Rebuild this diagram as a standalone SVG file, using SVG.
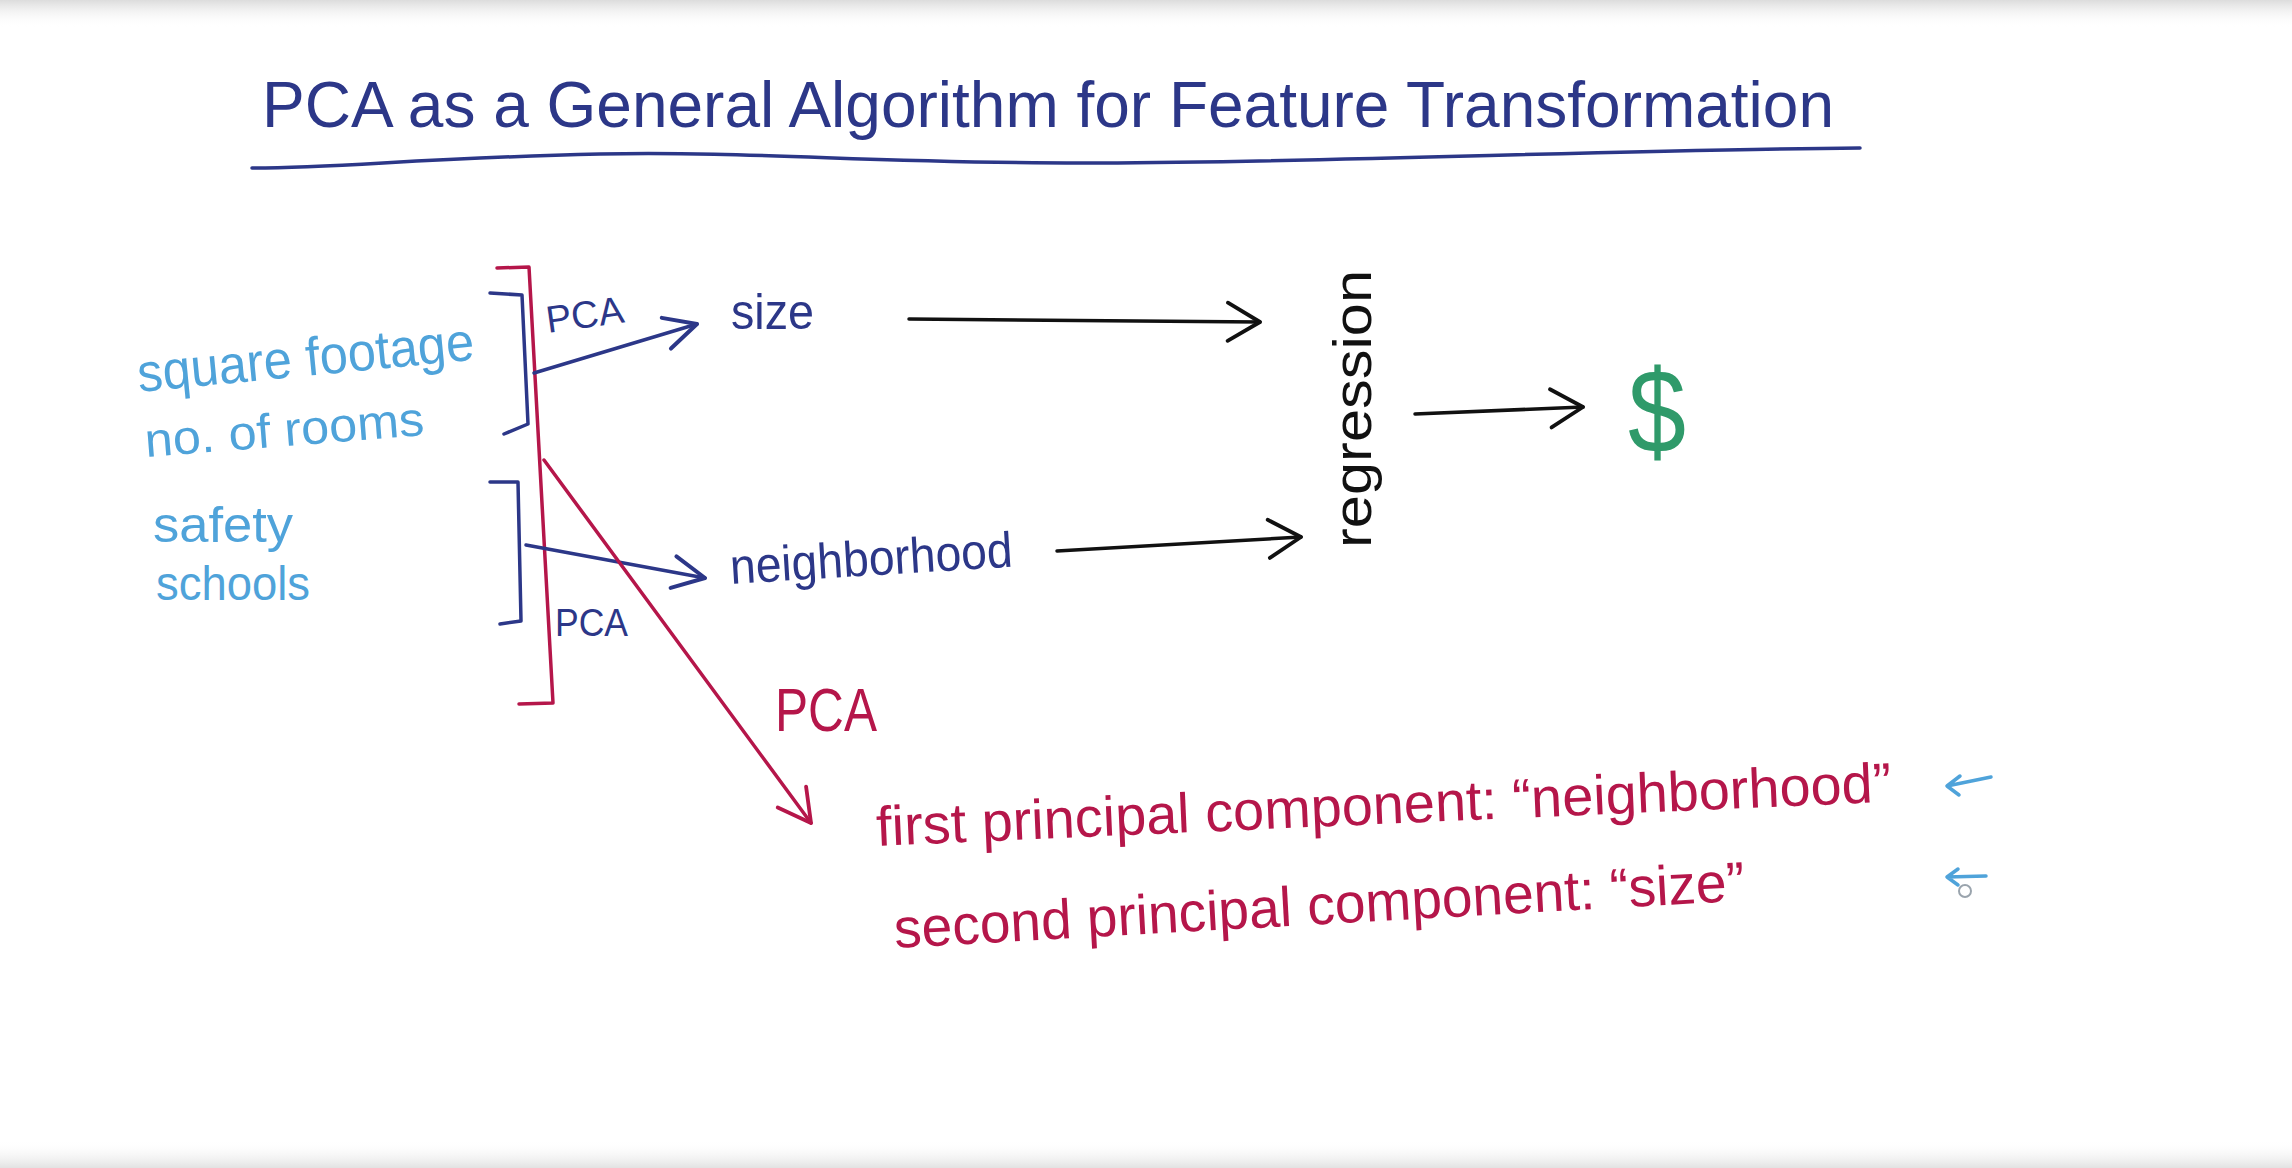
<svg xmlns="http://www.w3.org/2000/svg" width="2292" height="1168" viewBox="0 0 2292 1168">
<defs>
<style>
.t{font-family:"Liberation Sans",Arial,sans-serif;}
.navy{fill:#2c3788;}
.lb{fill:#4fa3da;}
.red{fill:#b5164a;}
.blk{fill:#111;}
.ln{fill:none;stroke-linecap:round;stroke-linejoin:round;stroke-width:3.5;}
.sn{stroke:#2c3788;}
.sr{stroke:#b5164a;}
.sk{stroke:#111;}
.sl{stroke:#4fa3da;}
</style>
<linearGradient id="gTop" x1="0" y1="0" x2="0" y2="1"><stop offset="0" stop-color="#dcdcdc"/><stop offset="1" stop-color="#ffffff" stop-opacity="0"/></linearGradient>
<linearGradient id="gBot" x1="0" y1="1" x2="0" y2="0"><stop offset="0" stop-color="#e2e2e2"/><stop offset="1" stop-color="#ffffff" stop-opacity="0"/></linearGradient>
<marker id="aN" markerUnits="userSpaceOnUse" markerWidth="40" markerHeight="40" viewBox="0 0 30 30" refX="27" refY="15" orient="auto"><path d="M3,3 L27,15 L3,27" fill="none" stroke="#2c3788" stroke-width="3" stroke-linecap="round" stroke-linejoin="round"/></marker>
<marker id="aK" markerUnits="userSpaceOnUse" markerWidth="44" markerHeight="44" viewBox="0 0 30 30" refX="27" refY="15" orient="auto"><path d="M5,2 L27,15 L5,28" fill="none" stroke="#111" stroke-width="2.6" stroke-linecap="round" stroke-linejoin="round"/></marker>
<marker id="aR" markerUnits="userSpaceOnUse" markerWidth="44" markerHeight="44" viewBox="0 0 30 30" refX="27" refY="15" orient="auto"><path d="M5,3 L27,15 L5,27" fill="none" stroke="#b5164a" stroke-width="2.6" stroke-linecap="round" stroke-linejoin="round"/></marker>
</defs>
<rect width="2292" height="1168" fill="#ffffff"/>
<rect width="2292" height="28" fill="url(#gTop)"/>
<rect y="1140" width="2292" height="28" fill="url(#gBot)"/>

<g id="title">
<text class="t navy" x="262" y="127" font-size="64" textLength="1572" lengthAdjust="spacingAndGlyphs">PCA as a General Algorithm for Feature Transformation</text>
<path class="ln sn" d="M252,168 C340,168 420,158 600,154 C760,151 880,164 1100,163 C1350,162 1600,150 1860,148" stroke-width="5"/>
</g>

<g id="inputs">
<text class="t lb" x="139" y="392" font-size="54" textLength="338" lengthAdjust="spacingAndGlyphs" transform="rotate(-5.5 139 392)">square footage</text>
<text class="t lb" x="146" y="457" font-size="48" textLength="280" lengthAdjust="spacingAndGlyphs" transform="rotate(-4.5 146 457)">no. of rooms</text>
<text class="t lb" x="153" y="542" font-size="50" textLength="140" lengthAdjust="spacingAndGlyphs">safety</text>
<text class="t lb" x="156" y="600" font-size="48" textLength="154" lengthAdjust="spacingAndGlyphs">schools</text>
</g>

<g id="bracket-all">
<path class="ln sr" d="M497,268 L529,267 L553,703 L519,704"/>
</g>
<g id="bracket-size">
<path class="ln sn" d="M490,293 L522,295 L528,424 L504,434"/>
</g>
<g id="bracket-neighborhood">
<path class="ln sn" d="M490,482 L518,482 L521,621 L500,624"/>
</g>

<g id="size">
<text class="t navy" x="731" y="329" font-size="50" textLength="83" lengthAdjust="spacingAndGlyphs">size</text>
</g>
<g id="neighborhood">
<text class="t navy" x="731" y="584" font-size="50" textLength="283" lengthAdjust="spacingAndGlyphs" transform="rotate(-3.5 731 584)">neighborhood</text>
</g>
<g id="regression">
<text class="t blk" x="1371" y="548" font-size="54" textLength="278" lengthAdjust="spacingAndGlyphs" transform="rotate(-90 1371 548)">regression</text>
</g>
<g id="dollar">
<text class="t" x="1628" y="452" font-size="118" fill="#2f9a6a" textLength="58" lengthAdjust="spacingAndGlyphs">$</text>
</g>

<g id="connectors">
<path class="ln sn" d="M534,373 L697,324" marker-end="url(#aN)"/>
<path class="ln sn" d="M526,545 L705,578" marker-end="url(#aN)"/>
<path class="ln sk" d="M909,319 L1260,322" marker-end="url(#aK)" stroke-width="3"/>
<path class="ln sk" d="M1057,551 L1301,537" marker-end="url(#aK)" stroke-width="3"/>
<path class="ln sk" d="M1415,414 L1583,407" marker-end="url(#aK)" stroke-width="3"/>
<path class="ln sr" d="M544,460 L811,823" marker-end="url(#aR)" stroke-width="3"/>
</g>

<g id="pca-labels">
<text class="t navy" x="548" y="333" font-size="38" textLength="78" lengthAdjust="spacingAndGlyphs" transform="rotate(-8 548 333)">PCA</text>
<text class="t navy" x="555" y="636" font-size="38" textLength="73" lengthAdjust="spacingAndGlyphs">PCA</text>
<text class="t red" x="775" y="731" font-size="62" textLength="102" lengthAdjust="spacingAndGlyphs">PCA</text>
</g>

<g id="components">
<text class="t red" x="877" y="846" font-size="56" textLength="1016" lengthAdjust="spacingAndGlyphs" transform="rotate(-2.5 877 846)">first principal component: “neighborhood”</text>
<text class="t red" x="895" y="948" font-size="56" textLength="852" lengthAdjust="spacingAndGlyphs" transform="rotate(-3.2 895 948)">second principal component: “size”</text>
</g>

<g id="marks">
<path class="ln sl" d="M1991,777 L1947,786 M1947,786 L1960,776 M1947,786 L1959,795" stroke-width="3"/>
<path class="ln sl" d="M1986,876 L1947,877 M1947,877 L1958,869 M1947,877 L1958,885" stroke-width="3"/>
<circle cx="1965" cy="891" r="6" fill="none" stroke="#9aa4ad" stroke-width="2"/>
</g>
</svg>
